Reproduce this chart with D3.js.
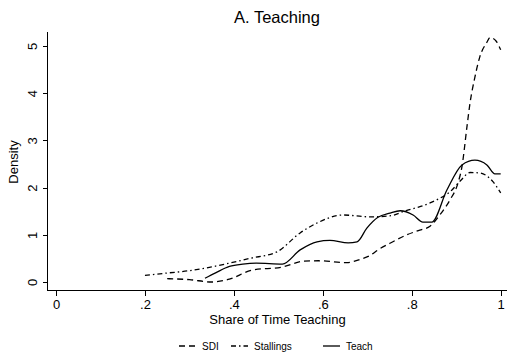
<!DOCTYPE html>
<html lang="en">
<head>
  <meta charset="UTF-8">
  <title>A. Teaching</title>
  <script src="https://d3js.org/d3.v7.min.js"></script>
</head>
<style>
  body{
    margin:0;
    background:white;
    font-family: Arial, "Liberation Sans", Helvetica, sans-serif;
  }
  .axis path, .axis line{
    stroke:#000;
    stroke-width:1;
    shape-rendering:crispEdges;
  }
  .axis text{
    font-size:13px;
    fill:#000;
    font-family: Arial, "Liberation Sans", sans-serif;
  }
</style>
<body>
  <div id="chart"></div>
<script>
// x-values and density values
var sdiX = [0.25, 0.30, 0.35, 0.39, 0.44, 0.51, 0.556, 0.59, 0.654, 0.684, 0.706, 0.724, 0.751, 0.789, 0.818, 0.841, 0.863, 0.886, 0.904, 0.913, 0.924, 0.931, 0.942, 0.953, 0.969, 0.976, 0.99, 1.0];
var sdiY = [0.07, 0.05, 0.0, 0.06, 0.25, 0.32, 0.44, 0.45, 0.41, 0.48, 0.56, 0.68, 0.82, 1.0, 1.1, 1.18, 1.42, 1.74, 2.1, 2.45, 3.28, 3.79, 4.34, 4.77, 5.08, 5.18, 5.1, 4.92];

var stallX = [0.2, 0.25, 0.3, 0.35, 0.39, 0.436, 0.497, 0.549, 0.587, 0.645, 0.706, 0.75, 0.789, 0.82, 0.856, 0.886, 0.91, 0.931, 0.953, 0.983, 1.0];
var stallY = [0.14, 0.19, 0.24, 0.32, 0.4, 0.5, 0.64, 1.04, 1.25, 1.42, 1.38, 1.4, 1.52, 1.6, 1.74, 1.91, 2.15, 2.32, 2.31, 2.12, 1.89];

var teachX = [0.335, 0.36, 0.39, 0.42, 0.45, 0.509, 0.549, 0.587, 0.616, 0.657, 0.677, 0.699, 0.724, 0.751, 0.774, 0.803, 0.825, 0.845, 0.879, 0.913, 0.942, 0.969, 0.987, 1.0];
var teachY = [0.08, 0.2, 0.33, 0.38, 0.4, 0.38, 0.68, 0.85, 0.88, 0.83, 0.85, 1.14, 1.37, 1.46, 1.51, 1.42, 1.27, 1.27, 1.95, 2.48, 2.58, 2.48, 2.29, 2.29];

var xTicks = [0, 0.2, 0.4, 0.6, 0.8, 1];
var yTicks = [0, 1, 2, 3, 4, 5];
var seriesNames = ["SDI", "Stallings", "Teach"];
var dashes = ["6,4", "5,3,1.5,3", null];

var width = 508, height = 360;

var svg = d3.select("#chart").append("svg")
  .attr("width", width)
  .attr("height", height);

// scales
var xScale = d3.scaleLinear().domain([0, 1]).range([56, 500.7]);
var yScale = d3.scaleLinear().domain([0, 5]).range([282, 46]);

// title
svg.append("text")
  .attr("x", 277)
  .attr("y", 23)
  .attr("text-anchor", "middle")
  .attr("font-size", "16.5px")
  .text("A. Teaching");

// x axis
var xAxis = d3.axisBottom(xScale)
  .tickValues(xTicks)
  .tickSize(5)
  .tickPadding(4)
  .tickFormat(function(d){
    if (d === 0 || d === 1) return String(d);
    return d3.format(".1f")(d).replace(/^0/, "");
  });

var gx = svg.append("g")
  .attr("class", "axis")
  .attr("transform", "translate(0,290.5)")
  .call(xAxis);
gx.select(".domain").attr("d", "M47,0H507");

// y axis
var yAxis = d3.axisLeft(yScale)
  .tickValues(yTicks)
  .tickSize(5)
  .tickFormat(d3.format("d"));

var gy = svg.append("g")
  .attr("class", "axis")
  .attr("transform", "translate(47.5,0)")
  .call(yAxis);
gy.select(".domain").attr("d", "M0,32V290.5");
gy.selectAll(".tick text")
  .attr("x", 0)
  .attr("dy", 0)
  .attr("text-anchor", "middle")
  .attr("transform", "translate(-11,0) rotate(-90)");

// axis titles
svg.append("text")
  .attr("x", 277.5)
  .attr("y", 324)
  .attr("text-anchor", "middle")
  .attr("font-size", "13px")
  .text("Share of Time Teaching");

svg.append("text")
  .attr("transform", "translate(18,162) rotate(-90)")
  .attr("text-anchor", "middle")
  .attr("font-size", "13px")
  .text("Density");

// lines
var line = d3.line()
  .x(function(d){ return xScale(d[0]); })
  .y(function(d){ return yScale(d[1]); })
  .curve(d3.curveMonotoneX);

var series = [d3.zip(sdiX, sdiY), d3.zip(stallX, stallY), d3.zip(teachX, teachY)];

series.forEach(function(s, i){
  svg.append("path")
    .datum(s)
    .attr("fill", "none")
    .attr("stroke", "#000")
    .attr("stroke-width", 1.3)
    .attr("stroke-dasharray", dashes[i])
    .attr("d", line);
});

// legend
var legendX = [179, 231, 323];
var legend = svg.append("g");
seriesNames.forEach(function(name, i){
  legend.append("line")
    .attr("x1", legendX[i])
    .attr("x2", legendX[i] + 17)
    .attr("y1", 346)
    .attr("y2", 346)
    .attr("stroke", "#000")
    .attr("stroke-width", 1.3)
    .attr("stroke-dasharray", dashes[i]);
  legend.append("text")
    .attr("x", legendX[i] + 23)
    .attr("y", 349.5)
    .attr("font-size", "10px")
    .text(name);
});
</script>
</body>
</html>
